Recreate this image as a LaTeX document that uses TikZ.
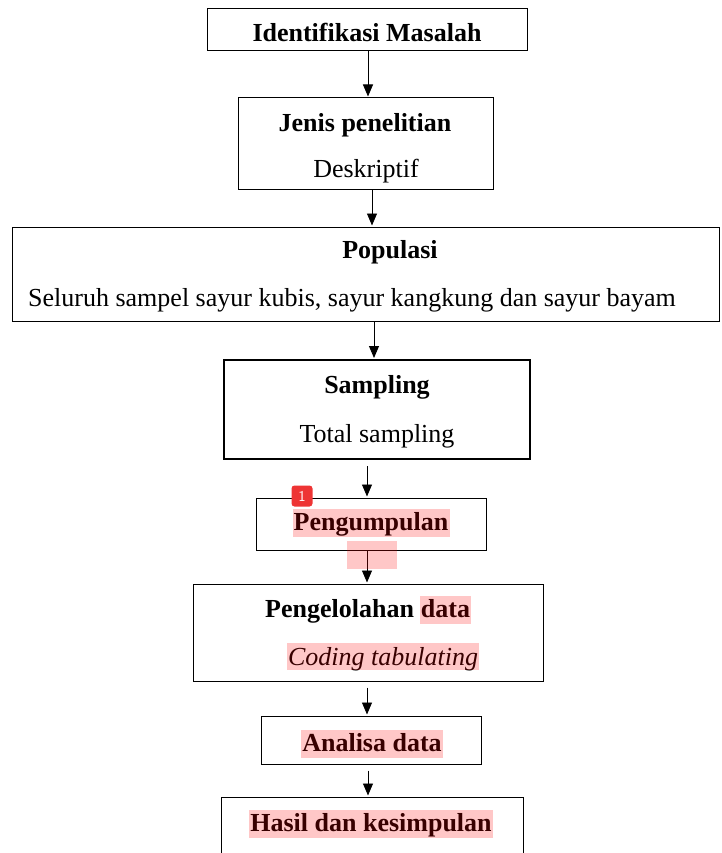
\documentclass[tikz,border=0pt]{standalone}
\usepackage{fontspec}
\setmainfont{Liberation Serif}
\usepackage{xcolor}
\usetikzlibrary{arrows.meta,positioning,calc}

\definecolor{notered}{RGB}{238,52,52}

\begin{document}
\begin{tikzpicture}[
    x=1pt, y=-1pt,
    box/.style={rectangle, draw, line width=1pt, inner sep=0pt},
    lbl/.style={inner sep=0pt, font=\fontsize{26}{31}\selectfont},
    head/.style={lbl, font=\fontsize{26}{31}\selectfont\bfseries},
    hilite/.style={fill=red, fill opacity=0.22},
    badge/.style={rectangle, fill=notered, rounded corners=3pt, minimum size=21pt, inner sep=0pt, text=white, font=\sffamily\fontsize{15}{15}\selectfont},
    arrow/.style={-{Triangle[length=12pt,width=10pt]}, line width=0.9pt, shorten >=1pt},
]
\useasboundingbox (0,0) rectangle (721,853);

\node[box, minimum width=320pt, minimum height=42pt] (idf) at (367,30) {};
\node[box, minimum width=255pt, minimum height=91pt] (jenis) at (365.5,143.5) {};
\node[box, minimum width=707pt, minimum height=94pt] (pop) at (365.5,274) {};
\node[box, line width=2pt, minimum width=306pt, minimum height=99pt] (smp) at (377,409.5) {};
\node[box, minimum width=230pt, minimum height=52pt] (pgm) at (371,524) {};
\node[box, minimum width=350pt, minimum height=97pt] (olah) at (368,632.5) {};
\node[box, minimum width=220pt, minimum height=48pt] (anl) at (371,740) {};
\node[box, minimum width=302pt, minimum height=80pt] (hsl) at (372,837) {};

\node[head, anchor=base] (idf_t) at (367,41.5) {Identifikasi Masalah};
\node[head, anchor=base] (jenis_t) at (365,132) {Jenis penelitian};
\node[lbl, anchor=base] (jenis_s) at (366,178) {Deskriptif};
\node[head, anchor=base] (pop_t) at (390,258) {Populasi};
\node[lbl, anchor=base west] (pop_s) at (28,306) {Seluruh sampel sayur kubis, sayur kangkung dan sayur bayam};
\node[head, anchor=base] (smp_t) at (377,393) {Sampling};
\node[lbl, anchor=base] (smp_s) at (377,442) {Total sampling};
\node[head, anchor=base] (pgm_t) at (371,530) {Pengumpulan};
\node[head, anchor=base west] (olah_t) at (265,617) {Pengelolahan};
\node[head, anchor=base west] (olah_d) at ([xshift=6.5pt]olah_t.base east) {data};
\node[lbl, anchor=base, font=\fontsize{26}{31}\selectfont\itshape] (olah_s) at (383,665) {Coding tabulating};
\node[head, anchor=base] (anl_t) at (372,751) {Analisa data};
\node[head, anchor=base] (hsl_t) at (371,831) {Hasil dan kesimpulan};

\draw[arrow] ([xshift=1pt]idf.south) -- ([xshift=2.5pt]jenis.north);
\draw[arrow] ([xshift=6.5pt]jenis.south) -- ([xshift=6.5pt]pop.north);
\draw[arrow] ([xshift=8.5pt]pop.south) -- ([xshift=-3pt]smp.north);
\draw[arrow] ([xshift=-10pt,yshift=-6pt]smp.south) -- ([xshift=-4pt]pgm.north);
\draw[arrow] ([xshift=-4pt]pgm.south) -- ([xshift=-1pt]olah.north);
\draw[arrow] ([xshift=-1pt,yshift=-6pt]olah.south) -- ([xshift=-4pt]anl.north);
\draw[arrow] ([xshift=-3pt,yshift=-6pt]anl.south) -- ([xshift=-4pt]hsl.north);

\fill[hilite] ([shift={(-1,-21)}]pgm_t.base west) rectangle ([shift={(1,7)}]pgm_t.base east);
\fill[hilite] (347,541) rectangle (397,569);
\fill[hilite] ([shift={(-1,-21)}]olah_d.base west) rectangle ([shift={(1,7)}]olah_d.base east);
\fill[hilite] ([shift={(-1,-22)}]olah_s.base west) rectangle ([shift={(1,5)}]olah_s.base east);
\fill[hilite] ([shift={(-1,-21)}]anl_t.base west) rectangle ([shift={(1,7)}]anl_t.base east);
\fill[hilite] ([shift={(-1,-21)}]hsl_t.base west) rectangle ([shift={(1,7)}]hsl_t.base east);

\node[badge] (note1) at (302,496) {1};
\end{tikzpicture}
\end{document}
